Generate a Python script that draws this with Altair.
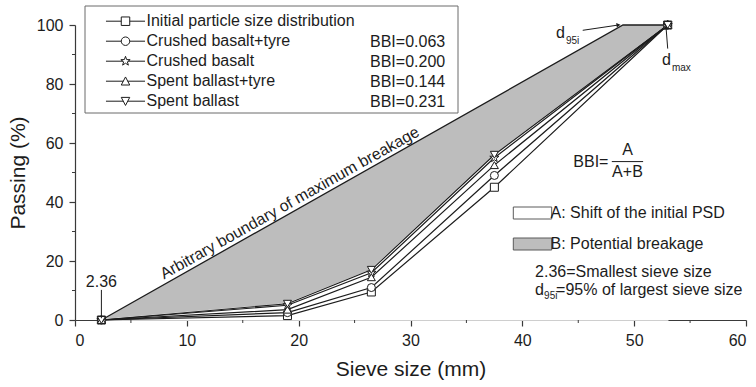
import math
import altair as alt
import pandas as pd

# ---- data -------------------------------------------------------------
sieve_mm = [2.36, 19.0, 26.5, 37.5, 53.0]

initial_psd = [0.0, 1.5, 9.5, 45.0, 100.0]
crushed_basalt_tyre = [0.0, 2.5, 11.0, 49.0, 100.0]
crushed_basalt = [0.0, 5.0, 16.0, 55.0, 100.0]
spent_ballast_tyre = [0.0, 3.5, 14.5, 52.5, 100.0]
spent_ballast = [0.0, 5.5, 17.0, 56.0, 100.0]

series_names = [
    "Initial particle size distribution",
    "Crushed basalt+tyre",
    "Crushed basalt",
    "Spent ballast+tyre",
    "Spent ballast",
]
bbi_labels = ["BBI=0.063", "BBI=0.200", "BBI=0.144", "BBI=0.231"]

# arbitrary boundary of maximum breakage: 2.36 mm -> d95i -> dmax
boundary_x = [2.36, 49.0, 53.0]
boundary_y = [0.0, 100.0, 100.0]

region_names = ["A: Shift of the initial PSD", "B: Potential breakage"]

x_ticks = [0, 10, 20, 30, 40, 50, 60]
x_minor = [5, 15, 25, 35, 45, 55]
y_ticks = [0, 20, 40, 60, 80, 100]
y_minor = [10, 30, 50, 70, 90]

# ---- style ------------------------------------------------------------
FONT = "Liberation Sans"
INK = "#1c1c1c"
AXIS = "#3a3a3a"
GRAY = "#bdbdbd"
W, H = 671, 295


def star_path(r_out, r_in):
    pts = []
    for k in range(10):
        ang = math.radians(-90 + 36 * k)
        r = r_out if k % 2 == 0 else r_in
        pts.append((r * math.cos(ang), r * math.sin(ang)))
    return "M" + "L".join(f"{x:.3f},{y:.3f}" for x, y in pts) + "Z"


def stub(a):
    return f"M-4.6,0L-{a},0M{a},0L4.6,0"


plot_shapes = ["square", "circle", star_path(1.2, 0.5), "triangle-up", "triangle-down"]
legend_shapes = [
    stub(1) + "M-1,-1L1,-1L1,1L-1,1Z",
    stub(1) + "M1,0A1,1 0 1,1 -1,0A1,1 0 1,1 1,0Z",
    stub(0.6) + star_path(1.15, 0.47),
    stub(0.53) + "M0,-1L1,0.9L-1,0.9Z",
    stub(0.53) + "M0,1L1,-0.9L-1,-0.9Z",
]

xs = alt.Scale(domain=[0, 60], nice=False, zero=False)
ys = alt.Scale(domain=[0, 100], nice=False)
x_axis = alt.Axis(title="Sieve size (mm)", values=x_ticks, format="d", tickSize=6,
                  labelPadding=6, titlePadding=10, grid=False)
y_axis = alt.Axis(title="Passing (%)", values=y_ticks, format="d", tickSize=6,
                  labelPadding=6, titlePadding=8, grid=False)


def X(field="size"):
    return alt.X(f"{field}:Q", scale=xs, axis=x_axis)


def Y(field="passing"):
    return alt.Y(f"{field}:Q", scale=ys, axis=y_axis)


# ---- tables -----------------------------------------------------------
curves = [initial_psd, crushed_basalt_tyre, crushed_basalt, spent_ballast_tyre, spent_ballast]
rows = []
for name, vals in zip(series_names, curves):
    for s, v in zip(sieve_mm, vals):
        rows.append({"series": name, "size": s, "passing": v})
psd = pd.DataFrame(rows)

boundary = pd.DataFrame({"size": boundary_x, "passing": boundary_y, "region": region_names[1]})
under_final = pd.DataFrame({"size": sieve_mm, "passing": spent_ballast, "region": region_names[0]})

legend_rows = pd.DataFrame({"size": [sieve_mm[0]] * 5, "passing": [0.0] * 5,
                            "entry": series_names})
bbi_rows = pd.DataFrame({"size": [sieve_mm[0]] * 4, "passing": [0.0] * 4, "bbi": bbi_labels})

# ---- layers -----------------------------------------------------------
fill_scale = alt.Scale(domain=region_names, range=["white", GRAY])
fill_legend = alt.Legend(
    orient="none", legendX=449.5, legendY=180, title=None, direction="vertical",
    symbolType="M-3.2,-1L3.2,-1L3.2,1L-3.2,1Z", symbolSize=144, symbolStrokeColor="#5a5a5a",
    symbolStrokeWidth=1, labelFont=FONT, labelFontSize=16, labelColor=INK, labelLimit=400,
    rowPadding=15, labelOffset=10, padding=0, symbolOffset=0,
)

gray_area = alt.Chart(boundary).mark_area(opacity=1).encode(
    x=X(), y=Y(), fill=alt.Fill("region:N", scale=fill_scale, legend=fill_legend))
# region below the final gradation is blanked out; a thin white edge hides seams
white_area = alt.Chart(under_final).mark_area(opacity=1, stroke="white", strokeWidth=1.5).encode(
    x=X(), y=Y(), fill=alt.Fill("region:N", scale=fill_scale, legend=fill_legend))

boundary_line = alt.Chart(boundary).mark_line(color=INK, strokeWidth=1.3).encode(x=X(), y=Y())

psd_lines = alt.Chart(psd).mark_line(color=INK, strokeWidth=1.2).encode(
    x=X(), y=Y(), detail="series:N")

psd_points = alt.Chart(psd).mark_point(filled=True, fill="white", stroke=INK, strokeWidth=1,
                                       size=64, opacity=1).encode(
    x=X(), y=Y(),
    shape=alt.Shape("series:N", scale=alt.Scale(domain=series_names, range=plot_shapes), legend=None))

# series key: line-and-marker symbols; the carrier marks are tiny and sit under the markers
key_layer = alt.Chart(legend_rows).mark_point(filled=False, color=INK, strokeWidth=1,
                                              size=1).encode(
    x=X(), y=Y(),
    shape=alt.Shape("entry:N", scale=alt.Scale(domain=series_names, range=legend_shapes),
                    legend=alt.Legend(orient="none", legendX=42.5, legendY=-11.8, title=None,
                                      direction="vertical", symbolSize=72, symbolOpacity=1,
                                      symbolStrokeColor=INK, symbolStrokeWidth=1,
                                      labelFont=FONT, labelFontSize=16,
                                      labelColor=INK, labelLimit=400, rowPadding=4,
                                      labelOffset=13, padding=0, symbolOffset=0)),
)

# BBI column of the key (no visible symbols)
bbi_layer = alt.Chart(bbi_rows).mark_point(size=1, filled=False).encode(
    x=X(), y=Y(),
    color=alt.Color("bbi:N", scale=alt.Scale(domain=bbi_labels, range=["transparent"] * 4),
                    legend=alt.Legend(orient="none", legendX=270, legendY=8.6, title=None,
                                      direction="vertical", symbolSize=72, symbolOpacity=0,
                                      labelFont=FONT, labelFontSize=16, labelColor=INK,
                                      labelLimit=400, rowPadding=4, labelOffset=9,
                                      padding=0)),
)

frame = alt.Chart(pd.DataFrame({"k": [0]})).mark_rect(fill="white", stroke="#6a6a6a",
                                                       strokeWidth=1).encode(
    x=alt.value(10), x2=alt.value(383), y=alt.value(-19), y2=alt.value(88))

x_minor_ticks = alt.Chart(pd.DataFrame({"size": x_minor})).mark_rule(color=AXIS).encode(
    x=X(), y=alt.value(H), y2=alt.value(H + 3))
y_minor_ticks = alt.Chart(pd.DataFrame({"passing": y_minor})).mark_rule(color=AXIS).encode(
    y=Y(), x=alt.value(-3), x2=alt.value(0))


def text_layer(xv, yv, labels, size=16, **kw):
    df = pd.DataFrame({"size": xv, "passing": yv, "label": labels})
    return alt.Chart(df).mark_text(font=FONT, fontSize=size, color=INK, **kw).encode(
        x=X(), y=Y(), text="label:N")


def seg_layer(x1, y1, x2, y2, width=1.0):
    df = pd.DataFrame({"size": [x1], "passing": [y1], "size2": [x2], "passing2": [y2]})
    return alt.Chart(df).mark_rule(color=INK, strokeWidth=width).encode(
        x=X(), y=Y(), x2="size2:Q", y2="passing2:Q")


def head_layer(xv, yv, shape, angle):
    df = pd.DataFrame({"size": [xv], "passing": [yv]})
    return alt.Chart(df).mark_point(shape=shape, filled=True, color=INK, size=22,
                                    angle=angle, opacity=1).encode(x=X(), y=Y())


boundary_label = text_layer([19.6], [37.0], ["Arbitrary boundary of maximum breakage"],
                            angle=330.6, align="center", baseline="bottom", dy=-1)

smallest_label = text_layer([2.36], [11.3], ["2.36"], align="center", baseline="alphabetic")
smallest_rule = seg_layer(2.36, 10.2, 2.36, 0.6)

d95_main = text_layer([43.0], [95.5], ["d"], size=16, align="left", baseline="alphabetic")
d95_sub = text_layer([43.0], [95.5], ["95i"], size=10, align="left", baseline="alphabetic",
                     dx=10, dy=6)
d95_arrow = seg_layer(45.4, 98.2, 48.6, 100.0)
d95_head = head_layer(48.6, 100.0, "triangle-right", 351.6)

dmax_main = text_layer([52.48], [86.4], ["d"], size=16, align="left", baseline="alphabetic")
dmax_sub = text_layer([52.48], [86.4], ["max"], size=10, align="left", baseline="alphabetic",
                      dx=10, dy=6)
dmax_arrow = seg_layer(53.0, 92.0, 52.85, 99.2)
dmax_head = head_layer(52.85, 99.2, "triangle-up", 355.5)

bbi_left = text_layer([47.7], [53.7], ["BBI="], align="right", baseline="middle")
bbi_frac = text_layer([49.4, 49.4], [57.6, 50.3], ["A", "A+B"], align="center", baseline="middle")
bbi_bar = seg_layer(48.0, 53.7, 50.8, 53.7)

note_sieve = text_layer([41.14], [16.4], ["2.36=Smallest sieve size"], align="left",
                        baseline="middle")
note_d = text_layer([41.14], [10.2], ["d"], align="left", baseline="middle")
note_sub = text_layer([41.14], [10.2], ["95i"], size=10, align="left", baseline="middle",
                      dx=9, dy=6)
note_rest = text_layer([41.14], [10.2], ["=95% of largest sieve size"], align="left",
                       baseline="middle", dx=21)

chart = alt.layer(
    gray_area, white_area, boundary_line, psd_lines, key_layer, bbi_layer, psd_points,
    frame,
    x_minor_ticks, y_minor_ticks,
    boundary_label, smallest_label, smallest_rule,
    d95_main, d95_sub, d95_arrow, d95_head,
    dmax_main, dmax_sub, dmax_arrow, dmax_head,
    bbi_left, bbi_frac, bbi_bar,
    note_sieve, note_d, note_sub, note_rest,
).resolve_scale(
    shape="independent", color="independent"
).properties(
    width=W, height=H,
    autosize=alt.AutoSizeParams(type="none"),
    padding={"left": 75, "top": 25, "right": 10, "bottom": 67},
    background="white",
).configure_view(
    stroke=None
).configure_axis(
    domainColor=AXIS, tickColor=AXIS, labelColor=INK, titleColor=INK,
    labelFont=FONT, titleFont=FONT, labelFontSize=16, titleFontSize=21,
    titleFontWeight="normal", domainWidth=1.2, tickWidth=1.2, zindex=1,
)

chart.save("out.html", embed_options={"renderer": "svg", "actions": False})
